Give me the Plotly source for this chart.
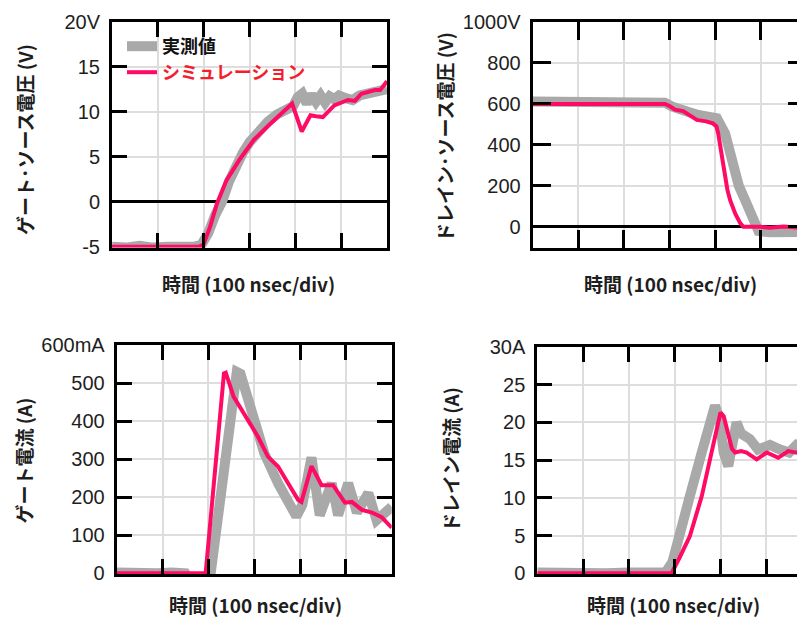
import plotly.graph_objects as go

# ---------------- data (time in divisions of 100 nsec) ----------------
# Gate-source voltage (V)
vgs_meas_t = [0, 0.3, 0.6, 0.9, 1.2, 1.5, 1.8, 1.95, 2.1, 2.25, 2.4, 2.55, 2.7, 2.85, 3.0, 3.2,
              3.4, 3.6, 3.8, 3.95, 4.05, 4.15, 4.25, 4.35, 4.45, 4.55, 4.65, 4.75, 4.85, 4.95,
              5.1, 5.25, 5.4, 5.55, 5.7, 5.85, 6.0]
vgs_meas_v = [-5, -5.1, -4.9, -5.1, -5, -5.1, -5, -4.8, -3.5, -1.5, 0, 2.2, 4.0, 5.4, 6.6, 7.9,
              8.9, 9.7, 10.3, 10.6, 11.6, 12.0, 10.9, 11.9, 11.1, 11.8, 11.0, 11.7, 11.4, 11.8,
              11.5, 11.3, 11.8, 12.0, 12.2, 12.4, 12.5]
vgs_sim_t = [0, 1.9, 1.99, 2.14, 2.29, 2.5, 2.8, 3.1, 3.38, 3.67, 3.93, 4.14, 4.33, 4.45, 4.6,
             4.85, 5.15, 5.3, 5.44, 5.74, 5.85, 6.0]
vgs_sim_v = [-5, -5, -4.8, -2.8, -0.2, 2.4, 4.8, 6.9, 8.3, 9.6, 10.9, 7.8, 9.6, 9.5, 9.4,
             10.7, 11.3, 11.2, 12.0, 12.4, 12.4, 13.4]

# Drain-source voltage (V)
vds_meas_t = [0, 0.5, 1.0, 1.5, 2.0, 2.5, 2.9, 3.05, 3.2, 3.4, 3.6, 3.8, 4.04, 4.22, 4.4,
              4.52, 4.66, 4.85, 4.95, 5.2, 5.5, 5.8, 6.0]
vds_meas_v = [612, 610, 612, 609, 612, 608, 606, 588, 572, 562, 548, 542, 530, 455, 292,
              200, 130, 10, -20, -27, -24, -28, -25]
vds_sim_t = [0, 2.9, 3.0, 3.12, 3.3, 3.45, 3.6, 3.8, 3.95, 4.03, 4.07, 4.14, 4.21, 4.27,
             4.33, 4.44, 4.55, 4.62, 5.0, 5.2, 5.5, 5.8, 6.0]
vds_sim_v = [600, 600, 590, 572, 565, 545, 522, 515, 505, 490, 454, 357, 245, 180,
             130, 65, 18, 0, 0, -5, 2, -3, 0]

# Gate current (mA)
ig_meas_t = [0, 0.3, 0.6, 0.9, 1.2, 1.5, 1.6, 1.95, 2.05, 2.31, 2.55, 2.62, 2.7, 2.85, 3.0,
             3.22, 3.52, 3.81, 3.92, 4.05, 4.25, 4.43, 4.69, 4.83, 5.05, 5.24, 5.49, 5.67,
             5.85, 6.0]
ig_meas_v = [2, 0, 3, 0, 2, 0, -20, -20, 0, 263, 500, 530, 525, 470, 400,
             316, 237, 167, 150, 180, 305, 153, 237, 153, 237, 160, 211, 140,
             160, 175]
ig_sim_t = [0, 1.94, 2.34, 2.38, 2.55, 2.86, 3.08, 3.3, 3.52, 3.74, 3.96, 4.03, 4.25, 4.47,
            4.72, 4.98, 5.13, 5.35, 5.57, 5.78, 6.0]
ig_sim_v = [0, 0, 526, 528, 465, 403, 360, 307, 281, 237, 193, 188, 282, 232,
            232, 186, 188, 167, 160, 148, 120]

# Drain current (A)
id_meas_t = [0, 0.5, 1.0, 1.5, 2.0, 2.5, 2.8, 2.95, 3.12, 3.33, 3.59, 3.75, 3.88, 3.98,
             4.07, 4.17, 4.27, 4.35, 4.45, 4.64, 4.82, 5.08, 5.3, 5.5, 5.66, 5.85, 6.0]
id_meas_v = [0.1, 0, 0.1, 0, 0.1, 0, 0.1, 1.5, 4.9, 10.2, 16, 20, 22.2, 20.5,
             16, 14.2, 17, 20, 18.5, 17.8, 16.4, 17, 16.4, 16, 17, 16.5, 16.5]
id_sim_t = [0, 2.93, 3.1, 3.33, 3.59, 3.81, 4.0, 4.07, 4.15, 4.25, 4.32, 4.45, 4.57, 4.79,
            5.01, 5.26, 5.48, 5.74, 6.0]
id_sim_v = [0, 0, 2, 4.9, 10.2, 16, 21.3, 20.8, 19, 16.5, 16.0, 16.2, 16.0, 15.1,
            16.0, 15.3, 16.2, 15.9, 16.0]

# tick labels
vgs_ticks = [-5, 0, 5, 10, 15, 20]
vgs_labels = ["-5", "0", "5", "10", "15", "20V"]
vds_ticks = [0, 200, 400, 600, 800, 1000]
vds_labels = ["0", "200", "400", "600", "800", "1000V"]
ig_ticks = [0, 100, 200, 300, 400, 500, 600]
ig_labels = ["0", "100", "200", "300", "400", "500", "600mA"]
id_ticks = [0, 5, 10, 15, 20, 25, 30]
id_labels = ["0", "5", "10", "15", "20", "25", "30A"]
div_ticks = [1, 2, 3, 4, 5]

name_meas = "実測値"
name_sim = "シミュレーション"

# ---------------- styling ----------------
GRAY = "#a9a9a9"
PINK = "#ff0a64"
CJK = "Noto Sans CJK JP"
NUM = "Liberation Sans"
TXT = "#1e1e1e"

W, H = 805, 618
OFF = 8  # page body margin of the html page


def px_x(v):
    return (v - OFF) / W


def px_y(v):
    return 1 - (v - OFF) / H


fig = go.Figure()

panels = [
    ("x", "y", vgs_meas_t, vgs_meas_v, vgs_sim_t, vgs_sim_v, True),
    ("x2", "y2", vds_meas_t, vds_meas_v, vds_sim_t, vds_sim_v, False),
    ("x3", "y3", ig_meas_t, ig_meas_v, ig_sim_t, ig_sim_v, False),
    ("x4", "y4", id_meas_t, id_meas_v, id_sim_t, id_sim_v, False),
]
for xa, ya, mt, mv, st, sv, leg in panels:
    fig.add_trace(go.Scatter(x=mt, y=mv, xaxis=xa, yaxis=ya, mode="lines",
                             line=dict(color=GRAY, width=10), name=name_meas,
                             showlegend=leg, legend="legend"))
for xa, ya, mt, mv, st, sv, leg in panels:
    fig.add_trace(go.Scatter(x=st, y=sv, xaxis=xa, yaxis=ya, mode="lines",
                             line=dict(color=PINK, width=4),
                             name="<span style='color:#f51e2d'>" + name_sim + "</span>",
                             showlegend=leg, legend="legend2"))


def xcfg(domain, rng, anchor, ticklen):
    return dict(domain=domain, range=rng, anchor=anchor, tickvals=div_ticks,
                showticklabels=False, ticks="inside", ticklen=ticklen, tickwidth=3,
                tickcolor="black", showline=True, linewidth=3, linecolor="black",
                mirror="ticks", showgrid=True, gridcolor="#dddddd", gridwidth=1.5,
                zeroline=False, fixedrange=True, automargin=False)


def ycfg(domain, rng, anchor, ticklen, tv, tt, zero):
    return dict(domain=domain, range=rng, anchor=anchor, tickvals=tv, ticktext=tt,
                tickfont=dict(family=NUM, size=20, color=TXT),
                ticks="inside", ticklen=ticklen, tickwidth=3, tickcolor="black",
                showline=True, linewidth=3, linecolor="black", mirror="ticks",
                showgrid=True, gridcolor="#dddddd", gridwidth=1.5,
                zeroline=zero, zerolinecolor="black", zerolinewidth=2.5,
                ticklabelstandoff=5, fixedrange=True, automargin=False)


legfont = dict(family=CJK, size=18, color="#111111", weight="bold")
fig.update_layout(
    template="none",
    width=W, height=H, margin=dict(l=0, r=0, t=0, b=0, pad=0), autosize=False,
    paper_bgcolor="white", plot_bgcolor="white",
    xaxis=xcfg([px_x(112), px_x(387)], [0, 6], "y", 15),
    yaxis=ycfg([px_y(247.6), px_y(21.7)], [-5.1, 20], "x", 15, vgs_ticks, vgs_labels, True),
    xaxis2=xcfg([px_x(532.7), px_x(806.3)], [0, 6], "y2", 18),
    yaxis2=ycfg([px_y(248.3), px_y(22)], [-105, 1000], "x2", 18, vds_ticks, vds_labels, True),
    xaxis3=xcfg([px_x(116.7), px_x(391.7)], [0, 6], "y3", 15),
    yaxis3=ycfg([px_y(574.1), px_y(345.3)], [-2, 600], "x3", 15, ig_ticks, ig_labels, False),
    xaxis4=xcfg([px_x(537.3), px_x(812.1)], [0, 6], "y4", 15),
    yaxis4=ycfg([px_y(574.1), px_y(346.8)], [-0.1, 30], "x4", 15, id_ticks, id_labels, False),
    showlegend=True,
    legend=dict(x=px_x(122), y=px_y(28), xanchor="left", yanchor="top",
                bgcolor="rgba(0,0,0,0)", borderwidth=0, font=legfont),
    legend2=dict(x=px_x(122), y=px_y(54), xanchor="left", yanchor="top",
                 bgcolor="rgba(0,0,0,0)", borderwidth=0, font=legfont),
)

xtitle = "時間 (100 nsec/div)"
annos = [
    (24, 140, "ゲート･ソース電圧 (V)", -90),
    (444, 137, "ドレイン･ソース電圧 (V)", -90),
    (22.5, 461, "ゲート電流 (A)", -90),
    (450, 460, "ドレイン電流 (A)", -90),
    (248, 283, xtitle, 0),
    (670, 283, xtitle, 0),
    (255, 604, xtitle, 0),
    (673.5, 604, xtitle, 0),
]
for ax_, ay_, t, ang in annos:
    fig.add_annotation(x=px_x(ax_), y=px_y(ay_), xref="paper", yref="paper", text=t,
                       textangle=ang, showarrow=False, xanchor="center", yanchor="middle",
                       font=dict(family=CJK, size=19, color=TXT, weight="bold"))

fig.write_html("out.html", config={"responsive": False})
